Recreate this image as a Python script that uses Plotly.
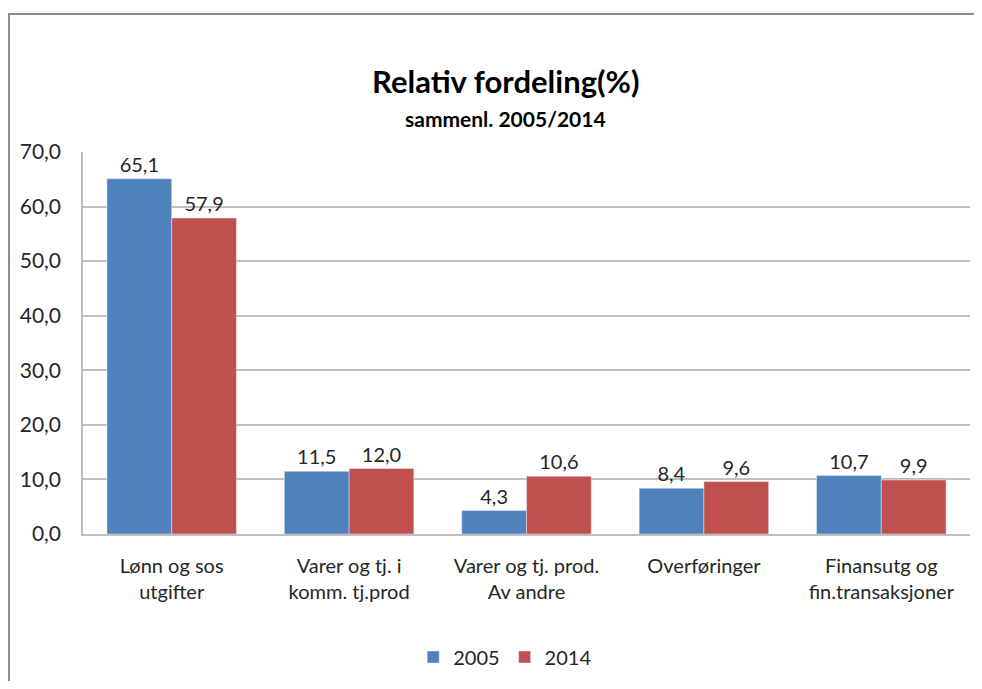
import plotly.graph_objects as go

categories = ["Lønn og sos<br>utgifter", "Varer og tj. i<br>komm. tj.prod", "Varer og tj. prod.<br>Av andre",
              "Overføringer<br> ", "Finansutg og<br>fin.transaksjoner"]
v2005 = [65.1, 11.5, 4.3, 8.4, 10.7]
v2014 = [57.9, 12.0, 10.6, 9.6, 9.9]
yticks = [0, 10, 20, 30, 40, 50, 60, 70]

def fmt(v):
    return f"{v:.1f}".replace(".", ",")

FONT = "Lato"
fig = go.Figure()
fig.add_trace(go.Bar(name="2005", x=categories, y=v2005, marker_color="#4F81BD",
                     text=[fmt(v) for v in v2005], textposition="outside",
                     textfont=dict(size=20, color="#262626", family=FONT), cliponaxis=False))
fig.add_trace(go.Bar(name="2014", x=categories, y=v2014, marker_color="#C0504D",
                     text=[fmt(v) for v in v2014], textposition="outside",
                     textfont=dict(size=20, color="#262626", family=FONT), cliponaxis=False))

fig.update_layout(
    width=966, height=673,
    margin=dict(l=75, r=4, t=144, b=144),
    paper_bgcolor="white", plot_bgcolor="white",
    barmode="group", bargap=0.27, bargroupgap=0,
    font=dict(family=FONT, size=20, color="#262626"),
    showlegend=True,
    legend=dict(orientation="h", x=0.476, xanchor="center", y=-0.322, yanchor="middle",
                font=dict(size=20, family=FONT), traceorder="normal"),
    shapes=[dict(type="path", xref="paper", yref="paper",
                 path="M -0.0834,-0.6 L -0.0834,1.361 L 1.2,1.361",
                 line=dict(color="#8C8C8C", width=2), layer="below")],
    annotations=[
        dict(text="<b>Relativ fordeling(%)</b>", xref="paper", yref="paper", x=0.476, y=1.187,
             xanchor="center", yanchor="middle", showarrow=False, font=dict(size=31, family=FONT, color="#000000")),
        dict(text="<b>sammenl. 2005/2014</b>", xref="paper", yref="paper", x=0.476, y=1.088,
             xanchor="center", yanchor="middle", showarrow=False, font=dict(size=21, family=FONT, color="#000000")),
    ],
)
fig.update_yaxes(range=[0, 70], tickvals=yticks, ticktext=[fmt(v) for v in yticks],
                 showgrid=True, gridcolor="#BFBFBF", gridwidth=1.5, showline=True, linecolor="#BFBFBF",
                 linewidth=1.5, ticks="", ticklen=0, tickfont=dict(size=21, family=FONT),
                 ticklabelstandoff=16, zeroline=False)
fig.update_xaxes(showline=True, linecolor="#BFBFBF", linewidth=1.5, ticks="",
                 tickfont=dict(size=20, family=FONT), ticklabelstandoff=13)

fig.write_html("out.html", config={"displayModeBar": False})
